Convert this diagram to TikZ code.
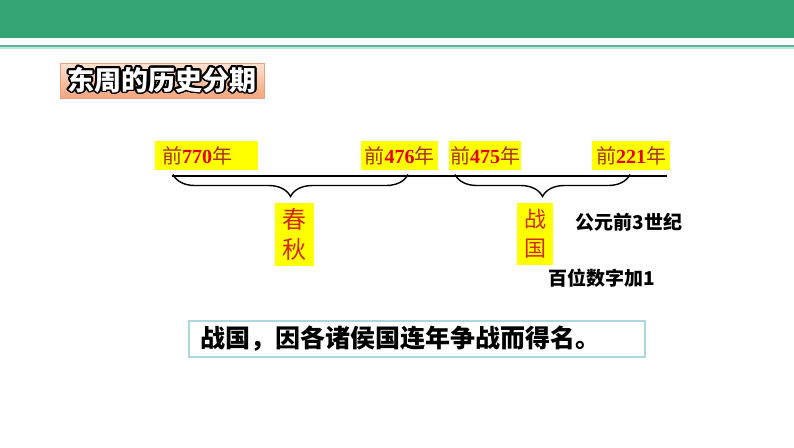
\documentclass[tikz,border=0pt]{standalone}
\usepackage{fontspec}
\usepackage{contour}
\contourlength{1.6pt}
\contournumber{24}
\newfontfamily\cjk{Noto Sans CJK SC}
\newfontfamily\numf{Liberation Serif}
\usetikzlibrary{decorations.pathreplacing}
\definecolor{barGreen}{HTML}{34A474}
\definecolor{lineGreen}{HTML}{5CB59A}
\definecolor{lineLight}{HTML}{BFE8DC}
\definecolor{peachTop}{HTML}{FDE3D0}
\definecolor{peachBot}{HTML}{F3A57C}
\definecolor{peachEdge}{HTML}{E7A283}
\definecolor{ybg}{HTML}{FFFF00}
\definecolor{brn}{HTML}{A8321E}
\definecolor{redn}{HTML}{E60012}
\definecolor{kred}{HTML}{D3290F}
\definecolor{boxEdge}{HTML}{A9D9DF}
\newcommand{\yr}[1]{{\cjk\color{brn}前}{\numf\bfseries\color{redn}#1}{\cjk\color{brn}年}}
\tikzset{
  ybox/.style={fill=ybg, inner sep=0pt, minimum height=29pt, font=\fontsize{20}{20}\selectfont},
  kbox/.style={fill=ybg, inner sep=0pt, align=center, text=kred},
  note/.style={font=\cjk\bfseries\fontsize{19}{19}\selectfont, text=black, inner sep=0pt},
  bracestyle/.style={decorate, decoration={brace, mirror, amplitude=22pt}, line width=1.4pt}
}
\begin{document}
\begin{tikzpicture}[x=1pt,y=-1pt]
\useasboundingbox (0,0) rectangle (794,447);
\fill[white] (0,0) rectangle (794,447);
% header bar
\fill[barGreen] (0,0) rectangle (794,38);
\fill[lineLight] (0,46) rectangle (794,48.5);
\fill[lineGreen] (0,45) rectangle (794,46.6);
% title
\node[draw=peachEdge, line width=1pt, top color=peachTop, bottom color=peachBot,
      minimum width=204pt, minimum height=35pt, inner sep=0pt] (title) at (162,80.5)
  {\contour{black}{\cjk\bfseries\fontsize{27}{27}\selectfont\color{white}东周的历史分期}};
% timeline
\coordinate (tl0) at (172,176);
\coordinate (tl1) at (667,176);
\draw[line width=2pt] (tl0) -- (tl1);
% year labels
\node[ybox, minimum width=103pt, anchor=west, text width=89pt, inner xsep=7pt, align=left] (y770) at (155,155.5) {\yr{770}};
\node[ybox, minimum width=77pt] (y476) at (399.5,155.5) {\yr{476}};
\node[ybox, minimum width=72pt] (y475) at (485,155.5) {\yr{475}};
\node[ybox, minimum width=78pt] (y221) at (631,155.5) {\yr{221}};
% braces
\coordinate (b1a) at (173,174.5);
\coordinate (b1b) at (408,174.5);
\coordinate (b2a) at (455,174.5);
\coordinate (b2b) at (630,174.5);
\draw[bracestyle] (b1a) -- (b1b);
\draw[bracestyle] (b2a) -- (b2b);
% period boxes
\node[kbox, minimum width=39pt, minimum height=63pt, font=\cjk\fontsize{24}{30}\selectfont] (cq) at (294.5,234.5) {春\\秋};
\node[kbox, minimum width=36pt, minimum height=62pt, font=\cjk\fontsize{22}{29}\selectfont] (zg) at (535,234) {战\\国};
% notes
\node[note] (n1) at (629,222) {公元前3世纪};
\node[note] (n2) at (602,278) {百位数字加1};
% bottom statement
\node[draw=boxEdge, line width=1.5pt, minimum width=456pt, minimum height=36pt, anchor=west,
      inner xsep=12pt, text width=432pt, align=left,
      font=\cjk\bfseries\fontsize{25}{25}\selectfont] (stmt) at (188,339)
  {战国，因各诸侯国连年争战而得名。};
\end{tikzpicture}
\end{document}
